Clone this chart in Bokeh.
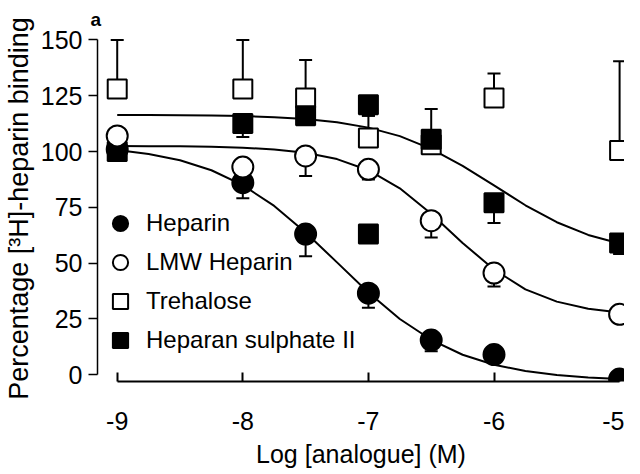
import numpy as np
from bokeh.plotting import figure
from bokeh.models import Range1d, Legend, LegendItem
from bokeh.embed import file_html
from bokeh.resources import INLINE

# ---- data ----
log_conc = [-9, -8, -7.5, -7, -6.5, -6, -5]
heparin = [101, 86, 63, 36.5, 15.5, 9, -2]
heparin_err = [0, 7, 10, 6.5, 5, 0, 0]
lmw = [107, 93, 98, 92, 69, 45.5, 27]
lmw_err = [0, 0, 9, 4.5, 7.5, 6, 3]
trehalose = [128, 128, 124, 106, 103, 124, 100.5]
trehalose_err = [22, 22, 17, 10, 16, 11, 40]
hs_conc = [-9, -8, -7.5, -7, -7, -6.5, -6, -5]
hs = [100, 112.5, 116, 121, 63, 105.5, 77, 59]
hs_err = [0, 6, 0, 5, 0, 0, 9, 5]

# fitted curves
curve_x = [-9, -8.75, -8.5, -8.25, -8, -7.75, -7.5, -7.25, -7, -6.75, -6.5,
           -6.25, -6, -5.75, -5.5, -5.25, -5]
heparin_fit = [100.7, 98.9, 96.1, 91.6, 84.9, 75.6, 63.7, 50.3, 36.8, 24.9,
               15.6, 8.9, 4.4, 1.6, -0.2, -1.3, -2.0]
lmw_fit = [102.45, 102.4, 102.3, 102.1, 101.7, 100.9, 99.4, 96.6, 91.6, 83.5,
           72.1, 59.0, 47.1, 38.2, 32.7, 29.5, 27.8]
hs_fit = [116.4, 116.4, 116.3, 116.1, 115.9, 115.4, 114.6, 113.1, 110.7, 106.9,
          101.2, 93.6, 84.8, 75.9, 68.3, 62.6, 58.8]

x_ticks = [-9, -8, -7, -6, -5]
x_tick_labels = ["-9", "-8", "-7", "-6", "-5"]
y_ticks = [0, 25, 50, 75, 100, 125, 150]
panel_letter = "a"

FONT = "Liberation Sans"

p = figure(width=624, height=474, output_backend="svg", toolbar_location=None,
           x_range=Range1d(-9.157, -4.961), y_range=Range1d(-3.1, 152),
           min_border_left=89, min_border_right=0, min_border_top=34,
           min_border_bottom=93)
p.outline_line_color = None
p.grid.visible = False
p.background_fill_color = "white"
p.border_fill_color = "white"

p.title.text = panel_letter
p.title.text_font = FONT
p.title.text_font_size = "19px"
p.title.text_font_style = "bold"
p.title.text_color = "black"
p.title.align = "left"
p.title.standoff = 12
p.title.offset = -7

# axes
ax = p.xaxis[0]
ax.ticker = x_ticks
ax.major_label_overrides = {t: s for t, s in zip(x_ticks, x_tick_labels)}
ax.bounds = (-9, -5)
ax.major_tick_in = 9
ax.major_tick_out = 0
ax.minor_tick_line_color = None
ax.axis_line_width = 2
ax.major_tick_line_width = 2
ax.major_label_standoff = 30
ax.major_label_text_font = FONT
ax.major_label_text_font_size = "25px"
ax.major_label_text_color = "black"
ax.axis_label = "Log [analogue] (M)"
ax.axis_label_text_font = FONT
ax.axis_label_text_font_size = "25px"
ax.axis_label_text_font_style = "normal"
ax.axis_label_text_color = "black"
ax.axis_label_standoff = 7

ay = p.yaxis[0]
ay.ticker = y_ticks
ay.bounds = (0, 150)
ay.major_tick_in = 0
ay.major_tick_out = 9
ay.minor_tick_line_color = None
ay.axis_line_width = 1.5
ay.major_tick_line_width = 1.5
ay.major_label_standoff = 6
ay.major_label_text_font = FONT
ay.major_label_text_font_size = "25px"
ay.major_label_text_color = "black"
ay.axis_label = "Percentage [³H]-heparin binding"
ay.axis_label_text_font = FONT
ay.axis_label_text_font_size = "27px"
ay.axis_label_text_font_style = "normal"
ay.axis_label_text_color = "black"
ay.axis_label_standoff = 4

# curves
for fit in (heparin_fit, lmw_fit, hs_fit):
    p.line(curve_x, fit, line_color="black", line_width=2, line_join="round")


def errbars(xs, ys, errs, direction):
    xs = np.asarray(xs, float)
    ys = np.asarray(ys, float)
    errs = np.asarray(errs, float)
    keep = errs > 0
    xs, ys, errs = xs[keep], ys[keep], errs[keep]
    ends = ys + direction * errs
    p.segment(x0=xs, y0=ys, x1=xs, y1=ends, line_color="black", line_width=2)
    p.scatter(xs, ends, marker="dash", size=13, line_color="black", line_width=2)


errbars(log_conc, trehalose, trehalose_err, +1)
errbars(hs_conc, hs, hs_err, -1)
errbars(log_conc, heparin, heparin_err, -1)
errbars(log_conc, lmw, lmw_err, -1)

r_tre = p.scatter(log_conc, trehalose, marker="square", size=19,
                  fill_color="white", line_color="black", line_width=2)
r_hs = p.scatter(hs_conc, hs, marker="square", size=19,
                 fill_color="black", line_color="black", line_width=2)
r_hep = p.scatter(log_conc, heparin, marker="circle", size=21,
                  fill_color="black", line_color="black", line_width=2)
r_lmw = p.scatter(log_conc, lmw, marker="circle", size=21,
                  fill_color="white", line_color="black", line_width=2)

legend = Legend(items=[
    LegendItem(label="Heparin", renderers=[r_hep]),
    LegendItem(label="LMW Heparin", renderers=[r_lmw]),
    LegendItem(label="Trehalose", renderers=[r_tre]),
    LegendItem(label="Heparan sulphate II", renderers=[r_hs]),
], location=(3, 22))
legend.padding = 0
legend.margin = 0
legend.spacing = 1
legend.glyph_height = 38
legend.glyph_width = 40
legend.label_height = 38
legend.label_standoff = 6
legend.label_text_font = FONT
legend.label_text_font_size = "24px"
legend.label_text_color = "black"
legend.background_fill_alpha = 0
legend.border_line_alpha = 0
p.add_layout(legend)

open("out.html", "w").write(file_html(p, INLINE))
